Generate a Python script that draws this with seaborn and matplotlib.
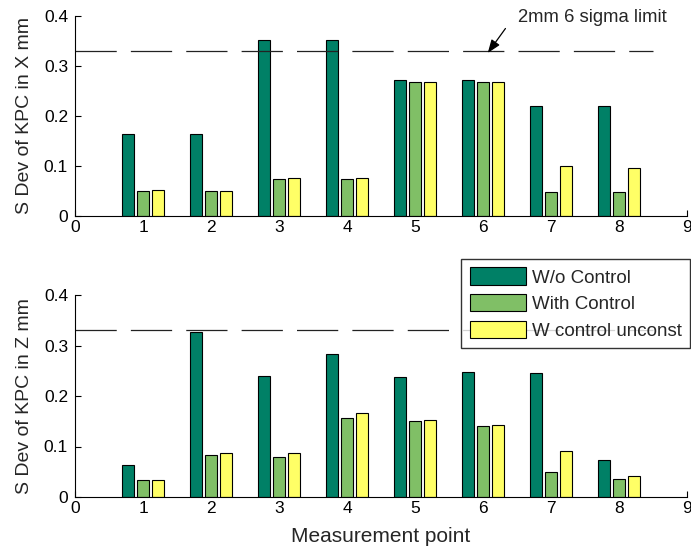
import numpy as np
import pandas as pd
import matplotlib
matplotlib.use("Agg")
import matplotlib.pyplot as plt
from matplotlib.ticker import FuncFormatter
import seaborn as sns

# Measurement points and series
points = [1, 2, 3, 4, 5, 6, 7, 8]
series = ["W/o Control", "With Control", "W control unconst"]

# Standard deviation of KPC in X (mm)
x_wo_control = [0.164, 0.164, 0.352, 0.352, 0.273, 0.273, 0.220, 0.220]
x_with_control = [0.050, 0.050, 0.075, 0.075, 0.268, 0.268, 0.049, 0.049]
x_unconst = [0.052, 0.050, 0.077, 0.077, 0.268, 0.268, 0.100, 0.097]

# Standard deviation of KPC in Z (mm)
z_wo_control = [0.064, 0.326, 0.240, 0.284, 0.237, 0.248, 0.245, 0.073]
z_with_control = [0.033, 0.084, 0.080, 0.156, 0.150, 0.140, 0.050, 0.036]
z_unconst = [0.033, 0.087, 0.087, 0.167, 0.153, 0.143, 0.092, 0.042]

# 2mm 6 sigma limit
sigma_limit = 0.33
limit_span = [0, 8.5]

x_ticks = [0, 1, 2, 3, 4, 5, 6, 7, 8, 9]
y_ticks = [0, 0.1, 0.2, 0.3, 0.4]

# MATLAB "summer" colours
palette = ["#008066", "#80BF66", "#FFFF66"]


def long_table(a, b, c):
    rows = []
    for name, vals in zip(series, [a, b, c]):
        for p, v in zip(points, vals):
            rows.append({"point": p, "value": v, "series": name})
    return pd.DataFrame(rows)


sns.set_style("white")
plt.rcParams["font.family"] = ["Liberation Sans", "DejaVu Sans"]
plt.rcParams["xtick.direction"] = "in"
plt.rcParams["ytick.direction"] = "in"

fig = plt.figure(figsize=(6.91, 5.54), dpi=100)
W, H = 691, 554
ax1 = fig.add_axes([75 / W, 1 - 216 / H, 612 / W, 200 / H])
ax2 = fig.add_axes([75 / W, 1 - 497 / H, 612 / W, 202 / H])

tables = [long_table(x_wo_control, x_with_control, x_unconst),
          long_table(z_wo_control, z_with_control, z_unconst)]
ylabels = ["S Dev of KPC in X mm", "S Dev of KPC in Z mm"]

for ax, df, yl in zip([ax1, ax2], tables, ylabels):
    sns.barplot(data=df, x="point", y="value", hue="series", hue_order=series,
                palette=palette, native_scale=True, width=0.675, gap=0.22,
                errorbar=None, edgecolor="black", linewidth=0.8, saturation=1,
                ax=ax)
    ax.plot(limit_span, [sigma_limit, sigma_limit], color="#222222", lw=0.9,
            dashes=(33, 11.3), zorder=1)
    ax.set_xlim(0, 9)
    ax.set_ylim(0, 0.4)
    ax.set_xticks(x_ticks)
    ax.set_yticks(y_ticks)
    ax.yaxis.set_major_formatter(FuncFormatter(lambda v, _: f"{v:g}"))
    ax.xaxis.set_major_formatter(FuncFormatter(lambda v, _: f"{v:g}"))
    ax.tick_params(axis="both", labelsize=12.5, length=4, width=0.8,
                   colors="black", left=True, bottom=True, direction="in")
    ax.tick_params(axis="y", pad=5)
    ax.tick_params(axis="x", pad=3)
    for s in ["top", "right"]:
        ax.spines[s].set_visible(False)
    for s in ["left", "bottom"]:
        ax.spines[s].set_color("black")
        ax.spines[s].set_linewidth(0.8)
    ax.set_xlabel("")
    ax.set_ylabel(yl, fontsize=14, labelpad=8)
    ax.patch.set_alpha(0)

ax2.set_xlabel("Measurement point", fontsize=15, labelpad=8)

# limit annotation
ax1.annotate("", xy=(6.07, 0.326), xytext=(6.33, 0.375),
             arrowprops=dict(arrowstyle="-|>,head_length=0.8,head_width=0.3",
                             color="black", lw=0.9, shrinkA=0, shrinkB=0),
             annotation_clip=False)
ax1.text(6.52, 0.398, "2mm 6 sigma limit", fontsize=13.3, va="center",
         ha="left", clip_on=False)

# legend
ax1.get_legend().remove()
handles, labels = ax2.get_legend_handles_labels()
ax2.get_legend().remove()
leg = fig.legend(handles, labels, loc="upper right",
                 bbox_to_anchor=(690 / W, 1 - 259 / H), fontsize=13.5,
                 frameon=True, fancybox=False, handlelength=3.0,
                 handleheight=1.05, handletextpad=0.3, labelspacing=0.4,
                 borderpad=0.45, borderaxespad=0)
leg.get_frame().set_edgecolor("black")
leg.get_frame().set_linewidth(1.0)

fig.savefig("out.png", dpi=100)
